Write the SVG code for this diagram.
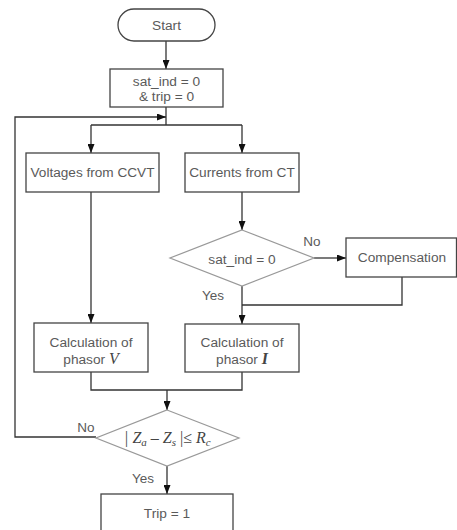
<svg xmlns="http://www.w3.org/2000/svg" width="457" height="530" viewBox="0 0 457 530">
<style>
.box{fill:#fff;stroke:#444;stroke-width:1.3}
.dia{fill:#fff;stroke:#999;stroke-width:1.2}
.t{font-family:"Liberation Sans",Arial,sans-serif;font-size:13.7px;fill:#5a5a5a;text-anchor:middle}
.lbl{font-family:"Liberation Sans",Arial,sans-serif;font-size:13.5px;fill:#5a5a5a;text-anchor:middle}
.m{font-family:"Liberation Serif","Times New Roman",serif;font-size:16px;fill:#444;font-style:italic}
.c{fill:none;stroke:#333;stroke-width:1.3}
</style>
<defs>
<marker id="ah" markerWidth="9" markerHeight="7" refX="9" refY="3.5" orient="auto" markerUnits="userSpaceOnUse">
<path d="M0,0 L9,3.5 L0,7 Z" fill="#111"/>
</marker>
</defs>
<g id="connectors">
<path class="c" d="M166,41 V69" marker-end="url(#ah)"/>
<path class="c" d="M166,107 V125"/>
<path class="c" d="M91,125 H242"/>
<path class="c" d="M91,125 V153" marker-end="url(#ah)"/>
<path class="c" d="M242,125 V153" marker-end="url(#ah)"/>
<path class="c" d="M96,437 H15 V117 H166" marker-end="url(#ah)"/>
<path class="c" d="M91,192 V323" marker-end="url(#ah)"/>
<path class="c" d="M242,192 V230" marker-end="url(#ah)"/>
<path class="c" d="M314,258 H346" marker-end="url(#ah)"/>
<path class="c" d="M242,286 V324" marker-end="url(#ah)"/>
<path class="c" d="M402,277 V305 H242"/>
<path class="c" d="M91,372 V390 H242 V372"/>
<path class="c" d="M167,390 V410" marker-end="url(#ah)"/>
<path class="c" d="M167,466 V494" marker-end="url(#ah)"/>
<text class="lbl" x="312" y="246">No</text>
<text class="lbl" x="213" y="300">Yes</text>
<text class="lbl" x="86" y="432">No</text>
<text class="lbl" x="143" y="483">Yes</text>
</g>
<g id="start">
<rect class="box" x="118" y="9" width="97" height="32" rx="16" ry="16"/>
<text class="t" x="166.5" y="30">Start</text>
</g>
<g id="init">
<rect class="box" x="110" y="69" width="113" height="38"/>
<text class="t" x="166.5" y="86">sat_ind = 0</text>
<text class="t" x="166.5" y="101">&amp; trip = 0</text>
</g>
<g id="voltages">
<rect class="box" x="26" y="153" width="133" height="39"/>
<text class="t" x="92.5" y="177" textLength="124" lengthAdjust="spacingAndGlyphs">Voltages from CCVT</text>
</g>
<g id="currents">
<rect class="box" x="185" y="153" width="114" height="39"/>
<text class="t" x="242" y="177">Currents from CT</text>
</g>
<g id="satcheck">
<polygon class="dia" points="242,230 314,258 242,286 170,258"/>
<text class="t" x="242" y="264">sat_ind = 0</text>
</g>
<g id="compensation">
<rect class="box" x="346" y="238" width="110.5" height="39"/>
<text class="t" x="402" y="262">Compensation</text>
</g>
<g id="calcV">
<rect class="box" x="34" y="323" width="114" height="49"/>
<text class="t" x="91" y="347">Calculation of</text>
<text class="t" x="91" y="364">phasor <tspan class="m" font-size="14">V</tspan></text>
</g>
<g id="calcI">
<rect class="box" x="185" y="324" width="114" height="48"/>
<text class="t" x="242" y="347">Calculation of</text>
<text class="t" x="242" y="364">phasor <tspan class="m" font-size="14" font-weight="bold">I</tspan></text>
</g>
<g id="zcheck">
<polygon class="dia" points="167,410 239,438 167,466 96,438"/>
<text class="m" x="124" y="443">| Z<tspan font-size="11" dy="3">a</tspan><tspan dy="-3" font-style="normal"> – </tspan>Z<tspan font-size="11" dy="3">s</tspan><tspan dy="-3" font-style="normal"> |≤ </tspan>R<tspan font-size="11" dy="3">c</tspan></text>
</g>
<g id="trip">
<rect class="box" x="101" y="494" width="132" height="44"/>
<text class="t" x="167" y="518">Trip = 1</text>
</g>
</svg>
